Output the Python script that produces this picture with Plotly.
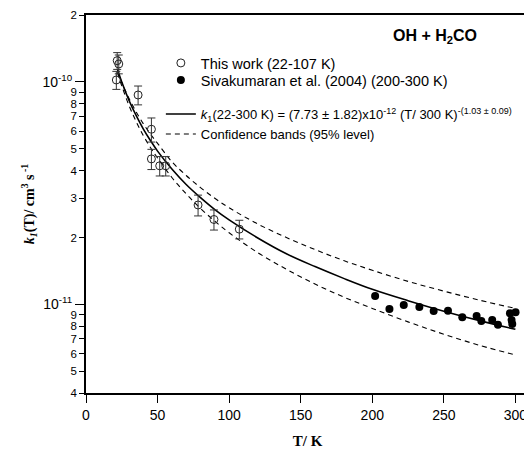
import plotly.graph_objects as go

# This work (22-107 K), open circles with error bars
t_this = [21.8, 22.9, 21.2, 36.4, 45.7, 45.7, 51.5, 55.7, 78.3, 89.4, 107.1]
k_this = [1.247e-10, 1.205e-10, 1.021e-10, 8.74e-11, 6.13e-11, 4.51e-11,
          4.20e-11, 4.20e-11, 2.80e-11, 2.41e-11, 2.18e-11]
err_this = [1.08e-11, 1.17e-11, 0.95e-11, 0.85e-11, 0.76e-11, 0.47e-11,
            0.42e-11, 0.42e-11, 0.30e-11, 0.25e-11, 0.21e-11]

# Sivakumaran et al. (2004), filled circles
t_siva = [202, 212, 222, 232.9, 242.9, 252.9, 262.9, 272.9, 276.2, 283.8,
          287.8, 296.2, 300.1, 297.3, 297.8]
k_siva = [1.092e-11, 9.55e-12, 9.94e-12, 9.74e-12, 9.35e-12, 9.37e-12,
          8.75e-12, 8.87e-12, 8.43e-12, 8.51e-12, 8.11e-12, 9.12e-12,
          9.22e-12, 8.51e-12, 8.17e-12]

# fit curve and 95% confidence bands
t_fit = [22, 25, 30, 35, 40, 45, 50, 60, 70, 80, 90, 100, 120, 140, 160,
         180, 200, 225, 250, 275, 300]
k_fit = [1.141e-10, 9.99e-11, 8.28e-11, 7.07e-11, 6.16e-11, 5.46e-11,
         4.89e-11, 4.06e-11, 3.46e-11, 3.02e-11, 2.67e-11, 2.40e-11,
         1.99e-11, 1.69e-11, 1.48e-11, 1.31e-11, 1.17e-11, 1.04e-11,
         9.33e-12, 8.46e-12, 7.73e-12]
k_upper = [1.12e-10, 9.95e-11, 8.45e-11, 7.35e-11, 6.50e-11, 5.83e-11,
           5.30e-11, 4.38e-11, 3.80e-11, 3.35e-11, 3.00e-11, 2.72e-11,
           2.30e-11, 2.00e-11, 1.765e-11, 1.575e-11, 1.425e-11, 1.27e-11,
           1.148e-11, 1.045e-11, 9.6e-12]
k_lower = [1.10e-10, 9.60e-11, 7.85e-11, 6.65e-11, 5.75e-11, 5.08e-11,
           4.55e-11, 3.72e-11, 3.14e-11, 2.70e-11, 2.37e-11, 2.10e-11,
           1.71e-11, 1.44e-11, 1.235e-11, 1.08e-11, 9.6e-12, 8.35e-12,
           7.35e-12, 6.55e-12, 5.93e-12]

x_ticks = [0, 50, 100, 150, 200, 250, 300]
y_minor_vals = [4e-12, 5e-12, 6e-12, 7e-12, 8e-12, 9e-12,
                2e-11, 3e-11, 4e-11, 5e-11, 6e-11, 7e-11, 8e-11, 9e-11, 2e-10]
y_minor_text = ["4", "5", "6", "7", "8", "9",
                "2", "3", "4", "5", "6", "7", "8", "9", "2"]
y_major_vals = [1e-11, 1e-10]
y_major_text = ["10<sup>-11</sup>", "10<sup>-10</sup>"]

SANS = "Liberation Sans, Arial, sans-serif"
SERIF = "Liberation Serif, Times New Roman, serif"
y_range = [-11.39794, -9.69897]
SUP = '<span style="font-size:9px">'


def legend_box(y, size):
    # one legend per entry so the rows sit where the reference has them
    return dict(x=0.169, y=y, xanchor='left', yanchor='middle',
                bgcolor='rgba(0,0,0,0)', borderwidth=0,
                font=dict(family=SANS, size=size, color='black'))


fig = go.Figure()

# Fit line
fig.add_trace(go.Scatter(
    x=t_fit, y=k_fit, mode='lines',
    name=('<i>k</i><sub>1</sub>(22-300 K) = (7.73 ± 1.82)x10<sup>' + SUP + '-12</span></sup>'
          ' (T/ 300 K)<sup>' + SUP + '-(1.03 ± 0.09)</span></sup>'),
    line=dict(color='black', width=1.6, shape='spline'),
    legend='legend3'
))

# Confidence bands
fig.add_trace(go.Scatter(
    x=t_fit, y=k_upper, mode='lines',
    name='Confidence bands (95% level)',
    line=dict(color='black', width=1.1, dash='5px,4px', shape='spline'),
    legend='legend4'
))
fig.add_trace(go.Scatter(
    x=t_fit, y=k_lower, mode='lines',
    showlegend=False,
    line=dict(color='black', width=1.1, dash='5px,4px', shape='spline'),
    legend='legend4'
))

# This work
fig.add_trace(go.Scatter(
    x=t_this, y=k_this, mode='markers',
    name='This work (22-107 K)',
    marker=dict(symbol='circle-open', color='#222', size=8, line=dict(width=1)),
    error_y=dict(type='data', array=err_this, color='#333', thickness=1, width=4),
    legend='legend'
))

# Sivakumaran et al.
fig.add_trace(go.Scatter(
    x=t_siva, y=k_siva, mode='markers',
    name='Sivakumaran et al. (2004) (200-300 K)',
    marker=dict(symbol='circle', color='black', size=8),
    legend='legend2'
))

# dummy trace so the second y axis is drawn
fig.add_trace(go.Scatter(x=[None], y=[None], yaxis='y2', showlegend=False))

fig.add_annotation(
    text='<b>OH + H<sub>2</sub>CO</b>', xref='paper', yref='paper',
    x=0.788, y=0.944, xanchor='center', yanchor='middle', showarrow=False,
    font=dict(family=SANS, size=16, color='black')
)

# page body has an 8px margin, so the figure is 8px smaller each way
fig.update_layout(
    width=524, height=442,
    margin=dict(l=78, r=3, t=7, b=57),
    paper_bgcolor='white', plot_bgcolor='white',
    showlegend=True,
    legend=legend_box(0.873, 14.5),
    legend2=legend_box(0.828, 14.5),
    legend3=legend_box(0.738, 13),
    legend4=legend_box(0.685, 13),
    xaxis=dict(
        range=[0, 309.5], tickvals=x_ticks, ticks='outside', ticklen=8,
        tickwidth=1, tickcolor='black', showline=True, linecolor='black',
        linewidth=1.5, mirror=True, showgrid=False, zeroline=False,
        automargin=False,
        tickfont=dict(family=SANS, size=14, color='black'),
        title=dict(text='<b>T/ K</b>', font=dict(family=SERIF, size=15, color='black'), standoff=14)
    ),
    yaxis=dict(
        type='log', range=y_range, tickvals=y_minor_vals, ticktext=y_minor_text,
        ticks='outside', ticklen=5, tickwidth=1, tickcolor='black',
        showline=True, linecolor='black', linewidth=1.5, mirror=True,
        showgrid=False, zeroline=False, automargin=False,
        tickfont=dict(family=SANS, size=11.5, color='black')
    ),
    yaxis2=dict(
        type='log', range=y_range, overlaying='y', side='left',
        tickvals=y_major_vals, ticktext=y_major_text,
        ticks='outside', ticklen=10, tickwidth=1, tickcolor='black',
        showline=False, showgrid=False, zeroline=False, automargin=False,
        tickfont=dict(family=SANS, size=14, color='black'),
        title=dict(text='<b><i>k</i><sub><i>1</i></sub>(T)/ cm<sup>3</sup> s<sup> -1</sup></b>',
                   font=dict(family=SERIF, size=14, color='black'), standoff=4)
    )
)

fig.write_html("out.html")
